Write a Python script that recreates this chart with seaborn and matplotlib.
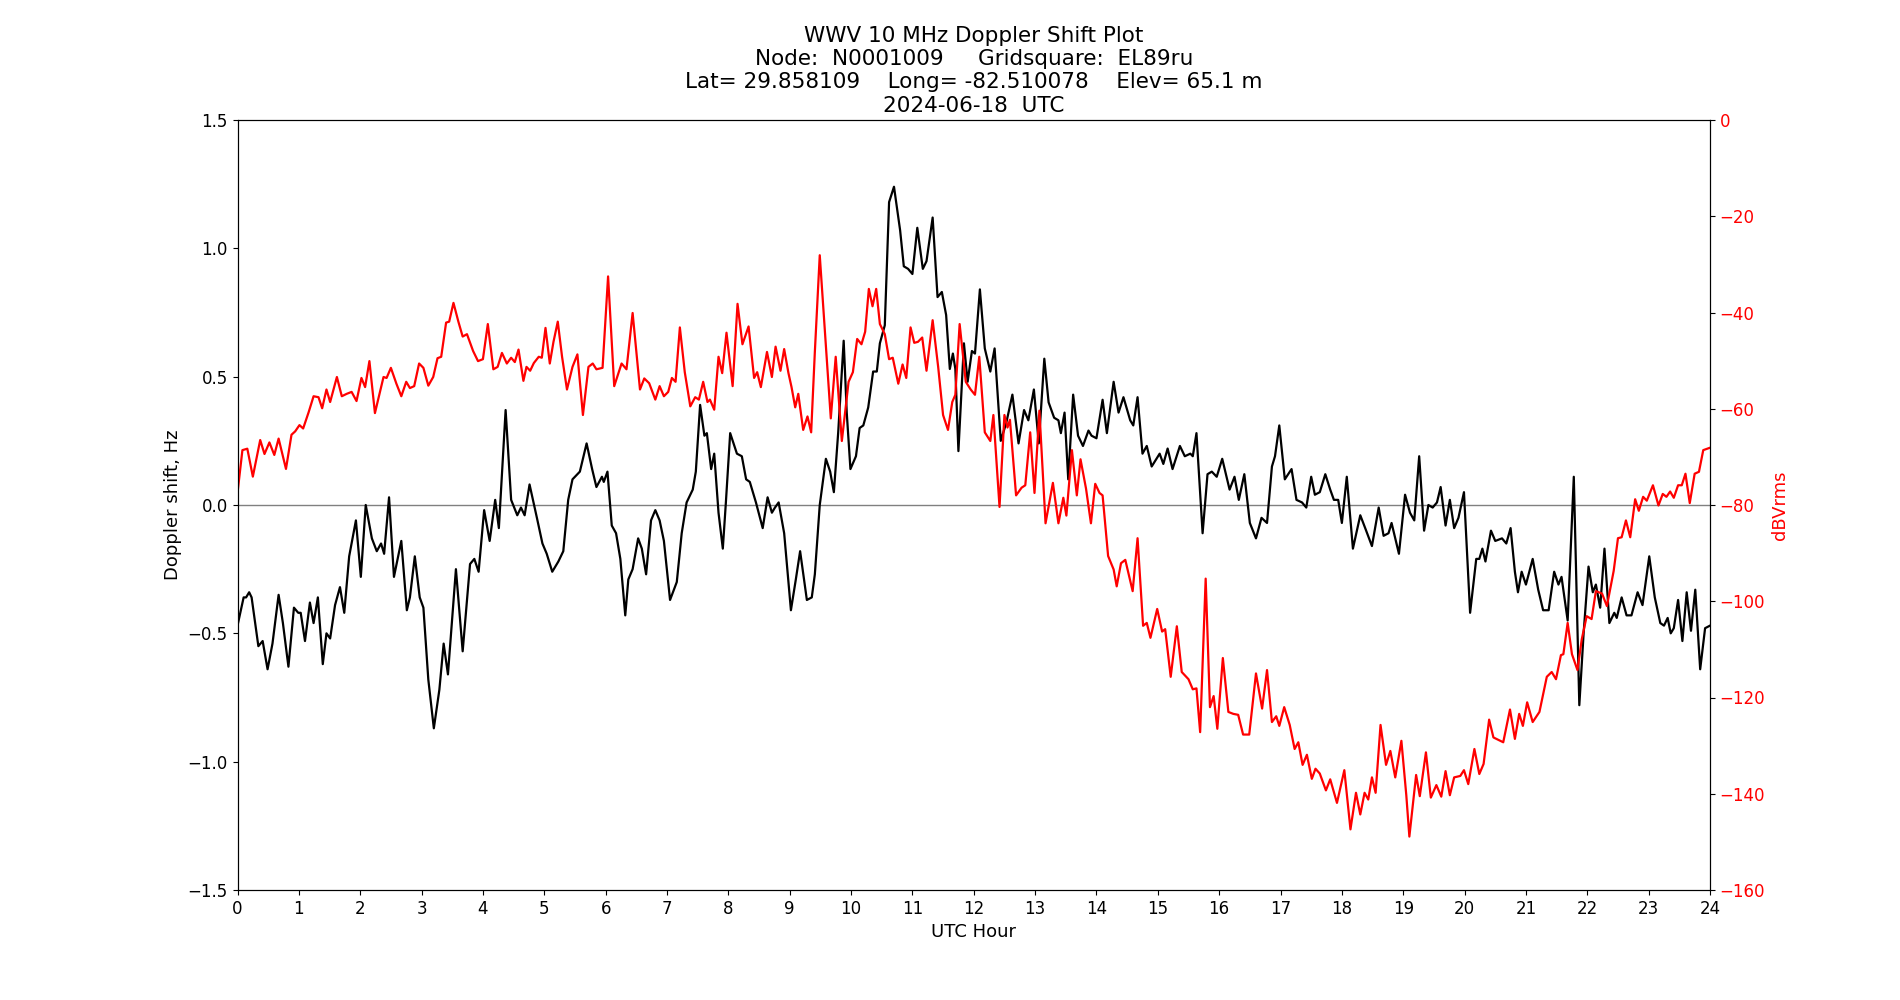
import numpy as np
import matplotlib
matplotlib.use("Agg")
import matplotlib.pyplot as plt
import seaborn as sns

# Doppler shift (black), Hz vs UTC hour
doppler_hours = [0.00, 0.10, 0.14, 0.19, 0.23, 0.34, 0.41, 0.49, 0.57, 0.67, 0.74, 0.83, 0.92, 0.99,
                 1.03, 1.10, 1.18, 1.24, 1.31, 1.39, 1.45, 1.51, 1.59, 1.67, 1.74, 1.82, 1.93, 2.01,
                 2.09, 2.19, 2.27, 2.34, 2.39, 2.47, 2.55, 2.67, 2.76, 2.81, 2.89, 2.97, 3.03, 3.11,
                 3.20, 3.29, 3.36, 3.43, 3.56, 3.67, 3.79, 3.86, 3.93, 4.02, 4.11, 4.20, 4.26, 4.37,
                 4.46, 4.56, 4.62, 4.68, 4.76, 4.88, 4.97, 5.04, 5.13, 5.23, 5.31, 5.39, 5.46, 5.58,
                 5.69, 5.78, 5.85, 5.94, 5.97, 6.03, 6.10, 6.17, 6.24, 6.32, 6.37, 6.44, 6.53, 6.59,
                 6.66, 6.74, 6.81, 6.88, 6.95, 7.05, 7.16, 7.24, 7.32, 7.42, 7.47, 7.54, 7.61, 7.65,
                 7.72, 7.77, 7.84, 7.91, 7.96, 8.03, 8.14, 8.22, 8.29, 8.35, 8.45, 8.56, 8.64, 8.71,
                 8.76, 8.82, 8.91, 9.02, 9.10, 9.17, 9.28, 9.36, 9.41, 9.49, 9.59, 9.66, 9.72, 9.79,
                 9.88, 9.93, 9.99, 10.08, 10.14, 10.20, 10.28, 10.36, 10.42, 10.47, 10.55, 10.62,
                 10.70, 10.80, 10.86, 10.93, 11.00, 11.08, 11.17, 11.23, 11.33, 11.41, 11.48, 11.55,
                 11.61, 11.66, 11.70, 11.75, 11.84, 11.90, 11.97, 12.02, 12.10, 12.18, 12.27, 12.34,
                 12.44, 12.53, 12.63, 12.73, 12.82, 12.89, 12.98, 13.06, 13.15, 13.22, 13.31, 13.38,
                 13.42, 13.48, 13.54, 13.62, 13.70, 13.78, 13.87, 13.92, 14.00, 14.10, 14.17, 14.28,
                 14.36, 14.44, 14.55, 14.60, 14.67, 14.75, 14.82, 14.90, 15.03, 15.09, 15.16, 15.24,
                 15.36, 15.44, 15.53, 15.57, 15.63, 15.73, 15.81, 15.88, 15.96, 16.05, 16.17, 16.25,
                 16.32, 16.41, 16.50, 16.60, 16.69, 16.78, 16.86, 16.91, 16.98, 17.07, 17.18, 17.26,
                 17.35, 17.42, 17.50, 17.56, 17.64, 17.73, 17.81, 17.87, 17.94, 18.00, 18.08, 18.18,
                 18.30, 18.38, 18.49, 18.60, 18.68, 18.76, 18.81, 18.93, 19.03, 19.11, 19.18, 19.26,
                 19.34, 19.41, 19.48, 19.55, 19.61, 19.69, 19.76, 19.83, 19.90, 19.99, 20.09, 20.19,
                 20.24, 20.29, 20.34, 20.43, 20.50, 20.61, 20.68, 20.75, 20.82, 20.87, 20.93, 21.00,
                 21.11, 21.20, 21.28, 21.37, 21.46, 21.53, 21.58, 21.68, 21.78, 21.87, 21.94, 22.02,
                 22.09, 22.14, 22.21, 22.28, 22.36, 22.44, 22.48, 22.56, 22.64, 22.72, 22.82, 22.90,
                 23.01, 23.10, 23.19, 23.25, 23.31, 23.36, 23.41, 23.48, 23.55, 23.62, 23.69, 23.76,
                 23.84, 23.92, 24.00]
doppler_hz = [-0.47, -0.36, -0.36, -0.34, -0.36, -0.55, -0.53, -0.64, -0.54, -0.35, -0.46, -0.63, -0.40, -0.42,
              -0.42, -0.53, -0.38, -0.46, -0.36, -0.62, -0.50, -0.52, -0.39, -0.32, -0.42, -0.20, -0.06, -0.28,
              0.00, -0.13, -0.18, -0.15, -0.19, 0.03, -0.28, -0.14, -0.41, -0.36, -0.20, -0.36, -0.40, -0.68,
              -0.87, -0.72, -0.54, -0.66, -0.25, -0.57, -0.23, -0.21, -0.26, -0.02, -0.14, 0.02, -0.09, 0.37,
              0.02, -0.04, -0.01, -0.04, 0.08, -0.05, -0.15, -0.19, -0.26, -0.22, -0.18, 0.02, 0.10, 0.13,
              0.24, 0.14, 0.07, 0.11, 0.09, 0.13, -0.08, -0.11, -0.21, -0.43, -0.29, -0.25, -0.13, -0.17,
              -0.27, -0.06, -0.02, -0.06, -0.14, -0.37, -0.30, -0.11, 0.01, 0.06, 0.13, 0.39, 0.27, 0.28,
              0.14, 0.20, -0.03, -0.17, 0.01, 0.28, 0.20, 0.19, 0.10, 0.09, 0.01, -0.09, 0.03, -0.03,
              -0.01, 0.01, -0.11, -0.41, -0.29, -0.18, -0.37, -0.36, -0.27, 0.00, 0.18, 0.13, 0.05, 0.28,
              0.64, 0.36, 0.14, 0.19, 0.30, 0.31, 0.38, 0.52, 0.52, 0.63, 0.70, 1.18,
              1.24, 1.07, 0.93, 0.92, 0.90, 1.08, 0.92, 0.95, 1.12, 0.81, 0.83, 0.74,
              0.53, 0.59, 0.53, 0.21, 0.63, 0.48, 0.60, 0.59, 0.84, 0.61, 0.52, 0.61,
              0.25, 0.32, 0.43, 0.24, 0.37, 0.33, 0.45, 0.24, 0.57, 0.40, 0.34, 0.33,
              0.28, 0.36, 0.10, 0.43, 0.27, 0.23, 0.29, 0.27, 0.26, 0.41, 0.28, 0.48,
              0.36, 0.42, 0.33, 0.31, 0.42, 0.20, 0.23, 0.15, 0.20, 0.16, 0.22, 0.14,
              0.23, 0.19, 0.20, 0.19, 0.28, -0.11, 0.12, 0.13, 0.11, 0.18, 0.06, 0.11,
              0.02, 0.12, -0.07, -0.13, -0.05, -0.07, 0.15, 0.19, 0.31, 0.10, 0.14, 0.02,
              0.01, -0.01, 0.11, 0.04, 0.05, 0.12, 0.06, 0.02, 0.02, -0.07, 0.11, -0.17,
              -0.04, -0.09, -0.16, -0.01, -0.12, -0.11, -0.07, -0.19, 0.04, -0.03, -0.06, 0.19,
              -0.10, 0.00, -0.01, 0.01, 0.07, -0.08, 0.02, -0.09, -0.05, 0.05, -0.42, -0.21,
              -0.21, -0.17, -0.22, -0.10, -0.14, -0.13, -0.15, -0.09, -0.26, -0.34, -0.26, -0.31,
              -0.21, -0.33, -0.41, -0.41, -0.26, -0.31, -0.28, -0.45, 0.11, -0.78, -0.50, -0.24,
              -0.34, -0.31, -0.40, -0.17, -0.46, -0.42, -0.44, -0.36, -0.43, -0.43, -0.34, -0.39,
              -0.20, -0.36, -0.46, -0.47, -0.44, -0.50, -0.48, -0.37, -0.53, -0.34, -0.49, -0.33,
              -0.64, -0.48, -0.47]

# Received power (red), dBVrms vs UTC hour
power_hours = [0.00, 0.08, 0.16, 0.25, 0.37, 0.44, 0.52, 0.60, 0.67, 0.79, 0.88, 0.94, 1.01, 1.07,
               1.16, 1.24, 1.32, 1.38, 1.45, 1.51, 1.62, 1.70, 1.78, 1.86, 1.94, 2.02, 2.08, 2.15,
               2.24, 2.38, 2.43, 2.50, 2.59, 2.67, 2.75, 2.81, 2.88, 2.96, 3.03, 3.11, 3.19, 3.26,
               3.32, 3.40, 3.45, 3.52, 3.60, 3.67, 3.74, 3.84, 3.92, 4.00, 4.08, 4.17, 4.24, 4.31,
               4.39, 4.46, 4.52, 4.58, 4.66, 4.71, 4.77, 4.83, 4.91, 4.96, 5.02, 5.09, 5.15, 5.22,
               5.29, 5.37, 5.46, 5.54, 5.63, 5.72, 5.79, 5.85, 5.95, 6.04, 6.14, 6.26, 6.34, 6.44,
               6.56, 6.63, 6.71, 6.81, 6.88, 6.95, 7.02, 7.08, 7.14, 7.21, 7.29, 7.38, 7.46, 7.52,
               7.59, 7.66, 7.70, 7.77, 7.84, 7.90, 7.97, 8.07, 8.15, 8.23, 8.33, 8.42, 8.47, 8.53,
               8.63, 8.71, 8.77, 8.85, 8.91, 8.98, 9.03, 9.09, 9.14, 9.22, 9.29, 9.35, 9.41, 9.49,
               9.59, 9.67, 9.75, 9.85, 9.96, 10.03, 10.10, 10.17, 10.23, 10.29, 10.35, 10.41,
               10.47, 10.55, 10.62, 10.68, 10.77, 10.84, 10.90, 10.97, 11.03, 11.09, 11.16, 11.23,
               11.33, 11.42, 11.50, 11.58, 11.65, 11.70, 11.77, 11.87, 11.95, 12.02, 12.09, 12.18,
               12.27, 12.32, 12.42, 12.50, 12.55, 12.59, 12.69, 12.78, 12.84, 12.92, 12.99, 13.07,
               13.17, 13.29, 13.38, 13.46, 13.51, 13.60, 13.68, 13.74, 13.83, 13.91, 13.98, 14.05,
               14.10, 14.19, 14.28, 14.33, 14.40, 14.47, 14.59, 14.67, 14.76, 14.82, 14.88, 14.99,
               15.07, 15.12, 15.21, 15.31, 15.39, 15.50, 15.57, 15.63, 15.69, 15.78, 15.85, 15.91,
               15.97, 16.06, 16.15, 16.23, 16.31, 16.39, 16.49, 16.60, 16.70, 16.78, 16.86, 16.93,
               16.98, 17.06, 17.15, 17.23, 17.29, 17.36, 17.43, 17.51, 17.57, 17.64, 17.74, 17.81,
               17.92, 18.04, 18.14, 18.23, 18.30, 18.37, 18.43, 18.49, 18.55, 18.63, 18.72, 18.79,
               18.87, 18.97, 19.05, 19.10, 19.21, 19.27, 19.37, 19.45, 19.54, 19.62, 19.69, 19.76,
               19.83, 19.93, 19.99, 20.06, 20.16, 20.24, 20.31, 20.40, 20.47, 20.58, 20.63, 20.74,
               20.82, 20.89, 20.95, 21.02, 21.11, 21.22, 21.34, 21.42, 21.49, 21.57, 21.61, 21.68,
               21.75, 21.84, 21.91, 21.99, 22.07, 22.14, 22.24, 22.32, 22.43, 22.50, 22.56, 22.63,
               22.70, 22.78, 22.84, 22.91, 22.97, 23.07, 23.16, 23.23, 23.29, 23.35, 23.41, 23.48,
               23.54, 23.60, 23.67, 23.75, 23.82, 23.89, 24.00]
power_db = [-77.5, -68.6, -68.3, -74.1, -66.5, -69.4, -67.0, -69.6, -66.2, -72.5, -65.4, -64.7, -63.4, -64.1,
            -60.7, -57.4, -57.6, -59.9, -56.0, -58.6, -53.4, -57.4, -56.9, -56.5, -58.4, -53.6, -55.5, -50.1,
            -60.9, -53.4, -53.6, -51.5, -54.8, -57.4, -54.4, -55.7, -55.3, -50.6, -51.5, -55.2, -53.4, -49.5,
            -49.2, -42.1, -41.9, -38.0, -41.9, -45.0, -44.5, -48.0, -50.1, -49.7, -42.4, -51.8, -51.3, -48.4,
            -50.6, -49.4, -50.3, -47.7, -54.2, -51.3, -52.1, -50.5, -49.2, -49.4, -43.2, -50.6, -46.1, -41.9,
            -49.2, -56.0, -51.3, -48.7, -61.3, -51.3, -50.6, -51.8, -51.5, -32.5, -55.3, -50.6, -51.8, -40.1,
            -56.0, -53.7, -54.7, -58.1, -55.3, -57.4, -56.5, -53.6, -54.4, -43.1, -52.4, -59.5, -57.6, -58.1,
            -54.4, -58.6, -58.1, -60.2, -49.2, -52.6, -44.2, -55.3, -38.2, -46.6, -42.9, -53.6, -52.4, -55.5,
            -48.2, -53.4, -47.1, -52.1, -47.6, -52.6, -55.5, -59.7, -56.9, -64.4, -61.6, -64.9, -48.2, -28.1,
            -47.1, -62.0, -49.2, -66.7, -54.4, -52.4, -45.5, -46.6, -44.0, -35.1, -38.7, -35.1,
            -42.4, -44.5, -49.7, -49.4, -54.8, -50.8, -53.6, -43.1, -46.3, -46.1, -45.2, -52.1,
            -41.6, -51.3, -61.3, -64.4, -58.6, -57.1, -42.4, -54.4, -56.0, -57.1, -49.2, -64.9,
            -66.7, -61.3, -80.4, -61.3, -63.9, -62.3, -78.0, -76.4, -75.9, -64.9, -77.5, -60.4,
            -83.8, -75.4, -83.8, -78.5, -82.2, -68.6, -78.0, -70.5, -76.6, -83.8, -75.6, -77.5,
            -78.0, -90.6, -93.4, -96.9, -92.1, -91.4, -97.9, -86.9, -105.1, -104.5, -107.6, -101.6,
            -106.3, -105.8, -115.7, -105.2, -114.7, -116.2, -118.3, -118.1, -127.2, -95.3, -122.0, -119.7,
            -126.5, -111.8, -123.0, -123.4, -123.6, -127.7, -127.7, -115.0, -122.3, -114.3, -125.1, -123.9,
            -125.9, -122.0, -125.7, -130.7, -129.3, -134.0, -131.9, -136.9, -134.8, -135.8, -139.3, -137.0,
            -141.9, -135.1, -147.4, -139.8, -144.3, -139.8, -141.2, -136.6, -139.8, -125.7, -134.0, -131.1,
            -136.6, -129.0, -140.3, -148.9, -136.1, -140.5, -131.4, -140.8, -138.2, -140.6, -135.3, -140.3,
            -136.6, -136.3, -135.1, -138.0, -130.7, -135.9, -133.8, -124.6, -128.3, -129.0, -129.3, -122.5,
            -128.6, -123.4, -125.9, -121.0, -125.1, -123.0, -115.7, -114.7, -116.2, -111.2, -111.0, -104.5,
            -111.0, -114.3, -107.9, -103.1, -103.7, -97.9, -98.4, -101.0, -93.7, -86.9, -86.7, -83.2,
            -86.7, -78.8, -81.2, -78.3, -79.1, -75.9, -80.1, -77.7, -78.3, -77.2, -78.5, -75.9,
            -75.9, -73.5, -79.6, -73.5, -73.1, -68.6, -68.1]

hour_ticks = list(range(0, 25))
doppler_ticks = [-1.5, -1.0, -0.5, 0.0, 0.5, 1.0, 1.5]
power_ticks = [-160, -140, -120, -100, -80, -60, -40, -20, 0]

title = ("WWV 10 MHz Doppler Shift Plot\n"
         "Node:  N0001009     Gridsquare:  EL89ru\n"
         "Lat= 29.858109    Long= -82.510078    Elev= 65.1 m\n"
         "2024-06-18  UTC")

plt.rcParams["font.size"] = 12

fig, ax = plt.subplots(figsize=(19, 10), dpi=100)
sns.lineplot(x=doppler_hours, y=doppler_hz, ax=ax, color="black", linewidth=1.6, sort=False)
ax.axhline(0, color="grey", linewidth=1, zorder=0)
ax.set_xlim(0, 24)
ax.set_ylim(-1.5, 1.5)
ax.set_xticks(hour_ticks)
ax.set_yticks(doppler_ticks)
ax.set_xlabel("UTC Hour", fontsize=13)
ax.set_ylabel("Doppler shift, Hz", fontsize=13)
ax.set_title(title, fontsize=15.5)

ax2 = ax.twinx()
sns.lineplot(x=power_hours, y=power_db, ax=ax2, color="red", linewidth=1.6, sort=False)
ax2.set_ylim(-160, 0)
ax2.set_yticks(power_ticks)
ax2.set_ylabel("dBVrms", color="red", fontsize=13)
ax2.tick_params(axis="y", labelcolor="red")

fig.savefig("out.png")
